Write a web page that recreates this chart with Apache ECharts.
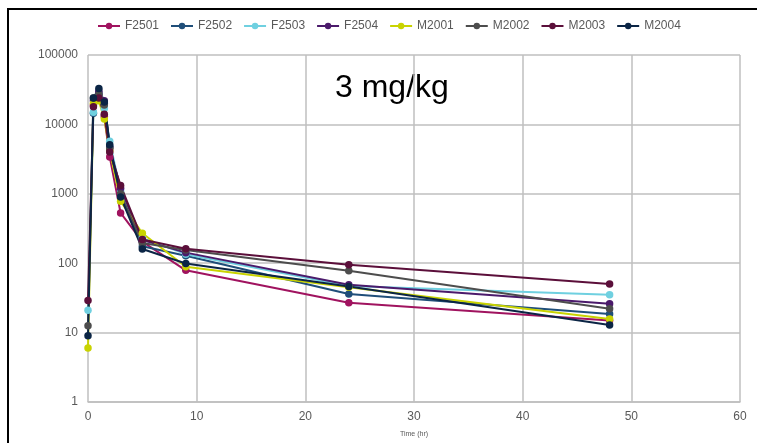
<!DOCTYPE html>
<html><head><meta charset="utf-8">
<script src="https://cdn.jsdelivr.net/npm/echarts@6/dist/echarts.min.js"></script>
<style>html,body{margin:0;padding:0;background:#fff}#c{width:757px;height:443px}</style>
</head><body><div id="c"></div>
<script>
const times = [0, 0.5, 1, 1.5, 2, 3, 5, 9, 24, 48];
const seriesNames = ['F2501','F2502','F2503','F2504','M2001','M2002','M2003','M2004'];
const F2501 = [null, 19000, 26000, 13000, 3400, 530, 205, 79, 27, 15];
const F2502 = [null, 14500, 28000, 20000, 4800, 950, 175, 128, 36, 18.5];
const F2503 = [21, 15000, 25000, 17000, 5700, 1100, 230, 135, 47, 35];
const F2504 = [null, 22000, 30000, 22000, 4600, 1200, 215, 142, 49, 26];
const M2001 = [6, 20000, 22000, 12000, 4200, 780, 270, 89, 45, 15.7];
const M2002 = [12.5, 24000, 27000, 19000, 4500, 1000, 195, 155, 78, 22];
const M2003 = [29, 18000, 24000, 14000, 4000, 1320, 220, 161, 95, 50];
const M2004 = [9, 24000, 33000, 21000, 5100, 900, 160, 99, 46, 12.9];
const seriesValues = [F2501, F2502, F2503, F2504, M2001, M2002, M2003, M2004];
const colors = ['#a0135f','#1f4e79','#6fd0e0','#4b1a6b','#c9d300','#4d4d4d','#5b0f3a','#0b2545'];
const xTicks = [0, 10, 20, 30, 40, 50, 60];
const yTicks = [1, 10, 100, 1000, 10000, 100000];
const chartTitle = '3 mg/kg';
const xName = 'Time (hr)';

const chart = echarts.init(document.getElementById('c'), null, {renderer:'canvas'});
const font = 'Liberation Sans, Arial, sans-serif';
chart.setOption({
  animation: false,
  color: colors,
  textStyle: {fontFamily: font},
  graphic: [
    {type:'rect', shape:{x:8, y:9, width:800, height:500}, style:{fill:'none', stroke:'#000', lineWidth:2}, z:-10},
    {type:'text', left:335, top:72, style:{text: chartTitle, font:'32px Liberation Sans, Arial, sans-serif', fill:'#000'}}
  ],
  legend: {
    top: 15, left: 92,
    itemWidth: 22, itemHeight: 8, itemGap: 11,
    textStyle: {fontSize: 12, color: '#595959', fontFamily: font},
    data: seriesNames
  },
  grid: {left: 88, right: 17, top: 55, bottom: 36, containLabel: false},
  xAxis: {
    type: 'value', min: xTicks[0], max: xTicks[xTicks.length-1], interval: 10,
    name: xName, nameLocation: 'middle', nameGap: 29,
    nameTextStyle: {fontSize: 7, color: '#595959', fontFamily: font},
    axisLine: {show: true, lineStyle: {color: '#bfbfbf', width: 1.5}},
    axisTick: {show: false},
    axisLabel: {fontSize: 12, color: '#595959', margin: 9, fontFamily: font},
    splitLine: {show: true, lineStyle: {color: '#bfbfbf', width: 1.5}}
  },
  yAxis: {
    type: 'log', logBase: 10, min: yTicks[0], max: yTicks[yTicks.length-1],
    axisLine: {show: false},
    axisTick: {show: false},
    axisLabel: {fontSize: 12, color: '#595959', margin: 10, fontFamily: font, formatter: v => String(Math.round(v))},
    splitLine: {show: true, lineStyle: {color: '#bfbfbf', width: 1.5}}
  },
  series: seriesNames.map((n, i) => ({
    name: n, type: 'line',
    data: times.map((t, j) => [t, seriesValues[i][j]]).filter(d => d[1] != null),
    symbol: 'circle', symbolSize: 7.5,
    lineStyle: {width: 2, color: colors[i]},
    itemStyle: {color: colors[i]}
  }))
});
</script></body></html>
